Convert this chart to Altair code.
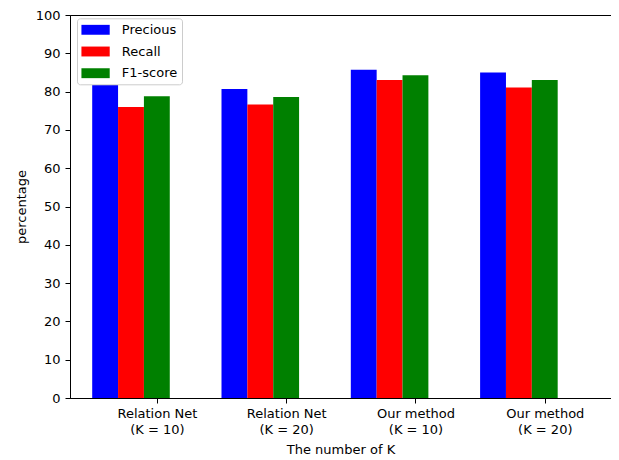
import altair as alt
import pandas as pd

methods = ["Relation Net\n(K = 10)", "Relation Net\n(K = 20)", "Our method\n(K = 10)", "Our method\n(K = 20)"]
metrics = ["Precious", "Recall", "F1-score"]
precious = [81.7, 80.7, 85.7, 85.0]
recall = [76.0, 76.6, 83.0, 81.1]
f1 = [78.8, 78.6, 84.3, 83.0]
colors = ["#0000ff", "#ff0000", "#008000"]
y_ticks = list(range(0, 101, 10))

rows = []
for i, m in enumerate(methods):
    for metric, vals in zip(metrics, [precious, recall, f1]):
        rows.append({"method": m, "metric": metric, "value": vals[i]})
df = pd.DataFrame(rows)

FONT = "DejaVu Sans"

chart = alt.Chart(df).mark_bar().encode(
    x=alt.X("method:N", sort=methods,
            scale=alt.Scale(paddingInner=0.4, paddingOuter=0.292, align=0.294),
            axis=alt.Axis(title="The number of K", labelAngle=0,
                          labelExpr="split(datum.label, '\\n')",
                          tickOffset=25.9, tickSize=5, labelPadding=4,
                          labelLineHeight=16.5, titlePadding=7)),
    xOffset=alt.XOffset("metric:N", sort=metrics, scale=alt.Scale(paddingInner=0, paddingOuter=0)),
    y=alt.Y("value:Q", scale=alt.Scale(domain=[0, 100], nice=False),
            axis=alt.Axis(title="percentage", values=y_ticks, grid=False,
                          tickSize=5, labelPadding=5, titlePadding=7)),
    color=alt.Color("metric:N", sort=metrics,
                    scale=alt.Scale(domain=metrics, range=colors),
                    legend=alt.Legend(title=None, orient="none", legendX=7, legendY=3.3,
                                      symbolType="M-1,-0.7H3V0.7H-1Z", symbolSize=200,
                                      symbolStrokeWidth=0, labelOffset=25.85,
                                      padding=4, rowPadding=6.7,
                                      strokeColor="#cccccc", cornerRadius=3,
                                      fillColor="rgba(255,255,255,0.8)",
                                      labelFontSize=13, labelFont=FONT, labelColor="black")),
).properties(
    width=541, height=383,
    autosize=alt.AutoSizeParams(type="none"),
    padding={"left": 62, "top": 7, "right": 0, "bottom": 60},
).configure_view(
    stroke="black", strokeWidth=1
).configure_axis(
    labelFont=FONT, titleFont=FONT, labelFontSize=13, titleFontSize=13,
    labelColor="black", titleColor="black", titleFontWeight="normal",
    domainColor="black", tickColor="black", labelFlush=False,
)

chart.save("out.html", embed_options={"renderer": "svg", "actions": False})
